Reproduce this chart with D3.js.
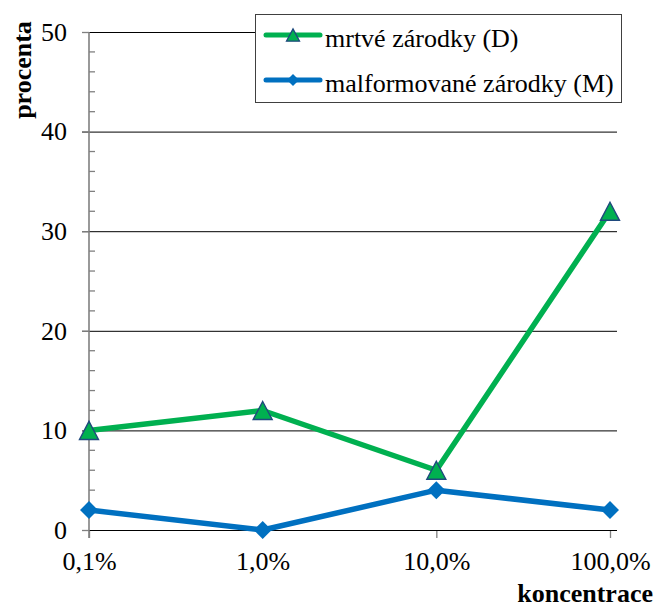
<!DOCTYPE html>
<html>
<head>
<meta charset="utf-8">
<script src="https://cdn.jsdelivr.net/npm/d3@7"></script>
<style>
  html, body { margin: 0; padding: 0; background: #fff; }
  svg { display: block; }
</style>
</head>
<body>
<svg id="chart" width="658" height="608"></svg>
<script>
// Concentrations on the x axis
const categories = ["0,1%", "1,0%", "10,0%", "100,0%"];
// Dead embryos (D), percent
const deadValues = [10, 12, 6, 32];
// Malformed embryos (M), percent
const malformedValues = [2, 0, 4, 2];
const yTicks = [0, 10, 20, 30, 40, 50];
const yMinorTicks = d3.range(0, 51, 2);
const seriesNames = ["mrtvé zárodky (D)", "malformované zárodky (M)"];

(function () {
const svg = d3.select("#chart");
const plotL = 89, plotR = 617, plotT = 32, plotB = 530;
const FONT = '"Liberation Serif"';
const fontSize = "26px";
const styleText = sel => sel.style("font-family", FONT).style("font-size", fontSize).style("fill", "#000");

const x = d3.scalePoint().domain(categories).range([plotL, 610]);
const y = d3.scaleLinear().domain([0, 50]).range([plotB, plotT]);

const green = "#00B050", blue = "#0070C0", edge = "#1F497D";

// Marker shapes centred on their bounding box
const triangleType = w => ({
  draw(ctx) {
    const h = w * 0.95;
    ctx.moveTo(0, -h / 2);
    ctx.lineTo(w / 2, h / 2);
    ctx.lineTo(-w / 2, h / 2);
    ctx.closePath();
  }
});
const diamondType = w => ({
  draw(ctx) {
    const r = w / 2;
    ctx.moveTo(0, -r);
    ctx.lineTo(r, 0);
    ctx.lineTo(0, r);
    ctx.lineTo(-r, 0);
    ctx.closePath();
  }
});

// horizontal gridlines (the top one runs under the legend box)
svg.append("g").selectAll("line").data(yTicks.filter(d => d > 0)).join("line")
  .attr("x1", plotL - 7).attr("x2", plotR)
  .attr("y1", d => y(d) + 0.5).attr("y2", d => y(d) + 0.5)
  .attr("stroke", "#000").attr("stroke-width", 1);

// x axis
const xAxis = svg.append("g").attr("transform", `translate(0,${plotB})`)
  .call(d3.axisBottom(x).tickSize(8).tickPadding(14));
xAxis.select(".domain").remove();
xAxis.append("line").attr("x1", plotL - 7).attr("x2", plotR).attr("y1", 0.5).attr("y2", 0.5)
  .attr("stroke", "#000").attr("stroke-width", 1);
xAxis.selectAll(".tick line").attr("stroke", "#808080").attr("stroke-width", 1.3);
xAxis.selectAll(".tick text").call(styleText);

// y axis: major ticks outside, minor ticks inside
const yAxis = svg.append("g").attr("transform", `translate(${plotL},0)`)
  .call(d3.axisLeft(y).tickValues(yTicks).tickSize(7).tickPadding(15));
yAxis.select(".domain").attr("stroke", "#808080").attr("stroke-width", 1.6)
  .attr("d", `M0,${plotT}V${plotB + 8}`);
yAxis.selectAll(".tick line").attr("stroke", "#808080").attr("stroke-width", 1.3);
yAxis.selectAll(".tick text").call(styleText);
yAxis.append("g").selectAll("line").data(yMinorTicks.filter(d => d % 10 !== 0)).join("line")
  .attr("x1", 0).attr("x2", 6).attr("y1", d => y(d)).attr("y2", d => y(d))
  .attr("stroke", "#808080").attr("stroke-width", 1.3);

// axis titles
svg.append("text").attr("transform", "translate(31,70) rotate(-90)")
  .attr("text-anchor", "middle").call(styleText).style("font-weight", "bold")
  .text("procenta");
svg.append("text").attr("x", 653).attr("y", 602).attr("text-anchor", "end")
  .call(styleText).style("font-weight", "bold").text("koncentrace");

const line = d3.line().x((d, i) => x(categories[i])).y(d => y(d));

function drawSeries(values, color, type, strokeCol) {
  svg.append("path").datum(values).attr("d", line)
    .attr("fill", "none").attr("stroke", color).attr("stroke-width", 5.5)
    .attr("stroke-linejoin", "round");
  svg.append("g").selectAll("path").data(values).join("path")
    .attr("transform", (d, i) => `translate(${x(categories[i])},${y(d)})`)
    .attr("d", d3.symbol().type(type))
    .attr("fill", color).attr("stroke", strokeCol || "none").attr("stroke-width", 1.4);
}
drawSeries(deadValues, green, triangleType(19), edge);
drawSeries(malformedValues, blue, diamondType(18), null);

// legend
const lg = svg.append("g");
lg.append("rect").attr("x", 255.5).attr("y", 14.5).attr("width", 366).attr("height", 88)
  .attr("fill", "#fff").attr("stroke", "#404040").attr("stroke-width", 1);
const legendItems = [
  { name: seriesNames[0], color: green, type: triangleType(13), stroke: edge, cy: 35 },
  { name: seriesNames[1], color: blue, type: diamondType(12), stroke: null, cy: 80 }
];
legendItems.forEach(it => {
  lg.append("line").attr("x1", 266).attr("x2", 320).attr("y1", it.cy).attr("y2", it.cy)
    .attr("stroke", it.color).attr("stroke-width", 5).attr("stroke-linecap", "round");
  lg.append("path").attr("transform", `translate(293,${it.cy})`)
    .attr("d", d3.symbol().type(it.type))
    .attr("fill", it.color).attr("stroke", it.stroke || "none").attr("stroke-width", 1.3);
  lg.append("text").attr("x", 325).attr("y", it.cy + 12)
    .call(styleText).text(it.name);
});
})();
</script>
</body>
</html>
